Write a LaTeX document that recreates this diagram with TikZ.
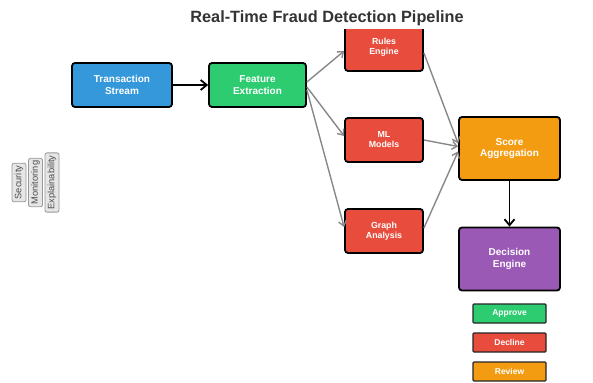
\documentclass[tikz,border=0pt]{standalone}
\usepackage{fontspec}
\setmainfont{Liberation Sans}
\usetikzlibrary{arrows.meta}
\definecolor{cblue}{HTML}{3498DB}
\definecolor{cgreen}{HTML}{2ECC71}
\definecolor{cred}{HTML}{E74C3C}
\definecolor{corange}{HTML}{F39C12}
\definecolor{cpurple}{HTML}{9B59B6}
\definecolor{ctitle}{HTML}{333333}
\definecolor{cgray}{HTML}{888888}
\definecolor{clab}{HTML}{E6E6E6}
\tikzset{
  bigbox/.style={draw=black, line width=1.8pt, rounded corners=3pt, minimum width=100pt, minimum height=44pt, text=white, font=\fontsize{10}{11.5}\selectfont\bfseries, align=center, inner sep=0pt},
  modbox/.style={draw=black, line width=1.8pt, rounded corners=3pt, minimum width=78pt, minimum height=44pt, fill=cred, text=white, font=\fontsize{8.8}{10}\selectfont\bfseries, align=center, inner sep=0pt},
  tallbox/.style={bigbox, minimum width=101pt, minimum height=63pt},
  outbox/.style={draw=black!85, line width=1.2pt, rounded corners=1pt, minimum width=73pt, minimum height=19pt, text=white, font=\fontsize{8.5}{9.5}\selectfont\bfseries, inner sep=0pt},
  sidelab/.style={draw=gray!80, fill=clab, line width=0.8pt, rounded corners=2pt, rotate=90, minimum height=14pt, text=black!70, font=\fontsize{9.3}{10}\selectfont, inner xsep=2.5pt, inner ysep=1pt},
  grayarr/.style={draw=cgray, line width=1.4pt, -{Straight Barb[length=5pt,width=8pt]}},
  blackarr/.style={draw=black, line width=1.8pt, -{Straight Barb[length=6pt,width=10pt]}}
}
\begin{document}
\begin{tikzpicture}[x=1pt,y=-1pt]
\useasboundingbox (0,0) rectangle (593,382);
\fill[white] (0,0) rectangle (593,382);
\node[text=ctitle, font=\fontsize{16.3}{18}\selectfont\bfseries] (title) at (327,18) {Real-Time Fraud Detection Pipeline};

\node[bigbox, fill=cblue] (ts) at (122,85) {Transaction\\Stream};
\node[bigbox, fill=cgreen, minimum width=97pt] (fe) at (257.5,85) {Feature\\Extraction};
\begin{scope}
\clip (330,30) rectangle (440,80);
\node[modbox, minimum height=48pt] (re) at (384,47) {Rules\\Engine};
\end{scope}
\node[modbox] (ml) at (384,140) {ML\\Models};
\node[modbox] (ga) at (384,231) {Graph\\Analysis};
\node[tallbox, fill=corange] (sa) at (509.5,148.5) {Score\\Aggregation};
\node[tallbox, fill=cpurple] (de) at (509.5,259) {Decision\\Engine};

\node[outbox, fill=cgreen] (ap) at (509.5,313.5) {Approve};
\node[outbox, fill=cred] (dc) at (509.5,342.5) {Decline};
\node[outbox, fill=corange] (rv) at (509.5,371.5) {Review};

\node[sidelab] (sec) at (19,182.5) {Security};
\node[sidelab] (mon) at (35.5,182.5) {Monitoring};
\node[sidelab] (exp) at (52,182.5) {Explainability};

\draw[blackarr] (ts.east) -- (fe.west);
\draw[grayarr] ([yshift=3pt]fe.east) -- ([yshift=-4pt]re.west);
\draw[grayarr] ([yshift=-2pt]fe.east) -- ([yshift=4pt]ml.west);
\draw[grayarr] ([yshift=-5pt]fe.east) -- ([yshift=4pt]ga.west);
\draw[grayarr] ([yshift=-6pt]re.east) -- ([yshift=5pt]sa.west);
\draw[grayarr] ([yshift=0pt]ml.east) -- ([yshift=2pt]sa.west);
\draw[grayarr] ([yshift=3pt]ga.east) -- ([yshift=-3pt]sa.west);
\draw[blackarr] (sa.south) -- (de.north);
\end{tikzpicture}
\end{document}
